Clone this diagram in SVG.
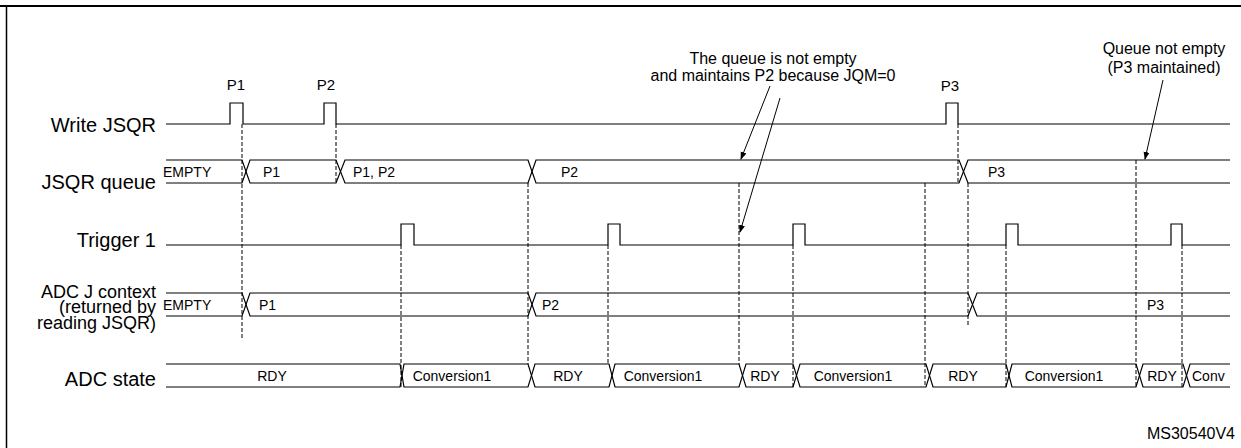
<svg xmlns="http://www.w3.org/2000/svg" width="1241" height="448" viewBox="0 0 1241 448">
<style>
text{font-family:"Liberation Sans",Arial,sans-serif;fill:#000}
.lbl{font-size:20px;text-anchor:end}
.bl{font-size:14px}
.ann{font-size:16px;text-anchor:middle}
.sig{fill:none;stroke:#000;stroke-width:1.2}
.dash{fill:none;stroke:#000;stroke-width:1;stroke-dasharray:4,2}
.arr{stroke:#000;stroke-width:1;fill:none;marker-end:url(#ah)}
</style>
<defs><marker id="ah" markerWidth="8" markerHeight="8" refX="7" refY="4" orient="auto" markerUnits="userSpaceOnUse"><path d="M0,1 L8,4 L0,7 z" fill="#000"/></marker></defs>
<rect width="1241" height="448" fill="#fff"/>
<line x1="0" y1="6" x2="1241" y2="6" stroke="#000" stroke-width="2"/>
<line x1="6.5" y1="7" x2="6.5" y2="448" stroke="#000" stroke-width="1.5"/>
<g id="labels">
<text class="lbl" x="156" y="132">Write JSQR</text>
<text class="lbl" x="156" y="189">JSQR queue</text>
<text class="lbl" x="156" y="247">Trigger 1</text>
<text class="lbl" x="156" y="298" style="font-size:18px">ADC J context</text>
<text class="lbl" x="156" y="313" style="font-size:18px">(returned by</text>
<text class="lbl" x="156" y="329" style="font-size:18px">reading JSQR)</text>
<text class="lbl" x="156" y="386">ADC state</text>
<text x="1235" y="439" style="font-size:16px;text-anchor:end">MS30540V4</text>
</g>
<g id="write">
<path class="sig" d="M166,124 H230 V103 H243 V124 H324 V103 H336 V124 H946 V103 H958 V124 H1230"/>
<text class="ann" x="236" y="90" style="font-size:15px">P1</text><text class="ann" x="326" y="90" style="font-size:15px">P2</text><text class="ann" x="950" y="91" style="font-size:15px">P3</text>
</g>
<g id="queue">
<path class="sig" d="M166,160 H242 L250,183 H336 L345,160 H528 L536,183 H959 L968,160 H1230"/>
<path class="sig" d="M166,183 H242 L250,160 H336 L345,183 H528 L536,160 H959 L968,183 H1230"/>
<text class="bl" x="163" y="177">EMPTY</text><text class="bl" x="263" y="177">P1</text><text class="bl" x="353" y="177">P1, P2</text><text class="bl" x="561" y="177">P2</text><text class="bl" x="988" y="177">P3</text>
</g>
<g id="trigger">
<path class="sig" d="M166,245 H401 V224 H414 V245 H608 V224 H620 V245 H793 V224 H805 V245 H1006 V224 H1018 V245 H1171 V224 H1182 V245 H1230"/>
</g>
<g id="context">
<path class="sig" d="M166,293 H242 L250,316 H528 L536,293 H968 L977,316 H1230"/>
<path class="sig" d="M166,316 H242 L250,293 H528 L536,316 H968 L977,293 H1230"/>
<text class="bl" x="163" y="310">EMPTY</text><text class="bl" x="259" y="310">P1</text><text class="bl" x="542" y="310">P2</text><text class="bl" x="1147" y="310">P3</text>
</g>
<g id="state">
<path class="sig" d="M166,364 H400 L404,387 H528 L535,364 H609 L615,387 H739 L746,364 H793 L800,387 H926 L933,364 H1006 L1012,387 H1136 L1143,364 H1183 L1190,387 H1230"/>
<path class="sig" d="M166,387 H400 L404,364 H528 L535,387 H609 L615,364 H739 L746,387 H793 L800,364 H926 L933,387 H1006 L1012,364 H1136 L1143,387 H1183 L1190,364 H1230"/>
<g style="font-size:14px;text-anchor:middle">
<text x="272" y="381">RDY</text><text x="452" y="381">Conversion1</text><text x="568" y="381">RDY</text><text x="663" y="381">Conversion1</text><text x="765" y="381">RDY</text><text x="853" y="381">Conversion1</text><text x="963" y="381">RDY</text><text x="1064" y="381">Conversion1</text><text x="1162" y="381">RDY</text><text x="1192" y="381" text-anchor="start">Conv</text>
</g>
</g>
<g id="connectors">
<path class="dash" d="M242,124 V339 M336,124 V183 M528,183 V364 M401,245 V387 M608,245 V364 M739,183 V364 M793,245 V387 M925,183 V387 M958,124 V183 M968,183 V325 M1006,245 V387 M1136,160 V387 M1182,245 V387"/>
<line class="arr" x1="770" y1="86" x2="741" y2="159"/>
<line class="arr" x1="780" y1="98" x2="740" y2="232"/>
<line class="arr" x1="1163" y1="80" x2="1145" y2="159"/>
</g>
<g id="annotations">
<text class="ann" x="773" y="64">The queue is not empty</text>
<text class="ann" x="773" y="81">and maintains P2 because JQM=0</text>
<text class="ann" x="1164" y="54">Queue not empty</text>
<text class="ann" x="1164" y="73">(P3 maintained)</text>
</g>
</svg>
